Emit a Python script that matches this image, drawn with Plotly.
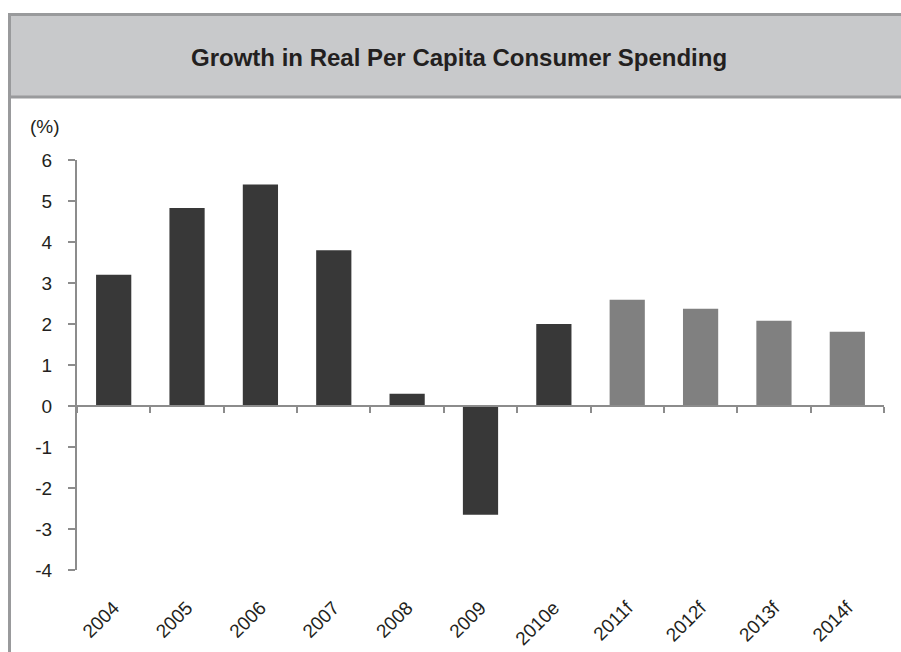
import plotly.graph_objects as go

# Data
years = ["2004", "2005", "2006", "2007", "2008", "2009", "2010e",
         "2011f", "2012f", "2013f", "2014f"]
growth = [3.2, 4.83, 5.4, 3.8, 0.3, -2.65, 2.0, 2.59, 2.37, 2.08, 1.81]
is_forecast = [False] * 7 + [True] * 4

y_tick_values = [-4, -3, -2, -1, 0, 1, 2, 3, 4, 5, 6]
y_tick_labels = ["-4", "-3", "-2", "-1", "0", "1", "2", "3", "4", "5", "6"]

title_text = "Growth in Real Per Capita Consumer Spending"
unit_text = "(%)"

# Styling
W, H = 901, 652
M_L, M_R, M_T, M_B = 77, 17, 160, 82
Y_MIN, Y_MAX = -4, 6
ACTUAL_COLOR = "#383838"
FORECAST_COLOR = "#808080"
AXIS_COLOR = "#8c8c8c"
FRAME_COLOR = "#999a9c"
HEADER_FILL = "#c8c9cb"
TEXT_COLOR = "#231f20"
FONT = "Arial, Liberation Sans, sans-serif"
TICK_SIZE = 19
TITLE_SIZE = 24

plot_w = W - M_L - M_R
plot_h = H - M_T - M_B


def px_x(px):
    return (px - M_L) / plot_w


def px_y(py):
    return (H - M_B - py) / plot_h


bar_colors = [FORECAST_COLOR if f else ACTUAL_COLOR for f in is_forecast]

fig = go.Figure()
fig.add_trace(go.Bar(
    x=years, y=growth, marker=dict(color=bar_colors, line=dict(width=0)),
    xaxis="x", yaxis="y", hoverinfo="x+y", showlegend=False,
))
# invisible companion trace so the zero-line axis is drawn
fig.add_trace(go.Scatter(
    x=years, y=[0] * len(years), mode="markers", marker=dict(opacity=0),
    xaxis="x2", yaxis="y", hoverinfo="skip", showlegend=False,
))

zero_pos = (0 - Y_MIN) / (Y_MAX - Y_MIN)

fig.update_layout(
    width=W, height=H,
    margin=dict(l=M_L, r=M_R, t=M_T, b=M_B, autoexpand=False),
    paper_bgcolor="white", plot_bgcolor="white",
    font=dict(family=FONT, size=TICK_SIZE, color=TEXT_COLOR),
    bargap=0.52,
    xaxis=dict(
        type="category", categoryorder="array", categoryarray=years,
        range=[-0.5, len(years) - 0.5], automargin=False,
        showline=False, showgrid=False, zeroline=False, ticks="",
        tickangle=-45, tickfont=dict(size=TICK_SIZE, color=TEXT_COLOR),
        ticklabelstandoff=22,
    ),
    xaxis2=dict(
        type="category", categoryorder="array", categoryarray=years,
        range=[-0.5, len(years) - 0.5], automargin=False,
        overlaying="x", anchor="free", position=zero_pos,
        showline=True, linecolor=AXIS_COLOR, linewidth=2,
        ticks="outside", tickson="boundaries", ticklen=6, tickwidth=2,
        tickcolor=AXIS_COLOR, showticklabels=False,
        showgrid=False, zeroline=False,
    ),
    yaxis=dict(
        range=[Y_MIN, Y_MAX], tickmode="array", automargin=False,
        tickvals=y_tick_values, ticktext=y_tick_labels,
        showline=True, linecolor=AXIS_COLOR, linewidth=2,
        ticks="outside", ticklen=7, tickwidth=2, tickcolor=AXIS_COLOR,
        showgrid=False, zeroline=False,
        tickfont=dict(size=TICK_SIZE, color=TEXT_COLOR),
        ticklabelstandoff=12,
    ),
    shapes=[
        # header band
        dict(type="rect", xref="paper", yref="paper",
             x0=px_x(9.5), x1=px_x(W + 5), y0=px_y(97), y1=px_y(14.5),
             fillcolor=HEADER_FILL, line=dict(width=0), layer="below"),
        dict(type="line", xref="paper", yref="paper",
             x0=px_x(8), x1=px_x(W + 5), y0=px_y(14.5), y1=px_y(14.5),
             line=dict(color=FRAME_COLOR, width=3)),
        dict(type="line", xref="paper", yref="paper",
             x0=px_x(8), x1=px_x(W + 5), y0=px_y(97), y1=px_y(97),
             line=dict(color=FRAME_COLOR, width=3)),
        # left frame edge
        dict(type="line", xref="paper", yref="paper",
             x0=px_x(9.5), x1=px_x(9.5), y0=px_y(H + 5), y1=px_y(13),
             line=dict(color=FRAME_COLOR, width=3)),
    ],
    annotations=[
        dict(text="<b>" + title_text + "</b>", xref="paper", yref="paper",
             x=px_x(459), y=px_y(57), xanchor="center", yanchor="middle",
             showarrow=False,
             font=dict(size=TITLE_SIZE, color=TEXT_COLOR, family=FONT)),
        dict(text=unit_text, xref="paper", yref="paper",
             x=px_x(45), y=px_y(127), xanchor="center", yanchor="middle",
             showarrow=False,
             font=dict(size=TICK_SIZE, color=TEXT_COLOR, family=FONT)),
    ],
)

fig.write_html("out.html")
